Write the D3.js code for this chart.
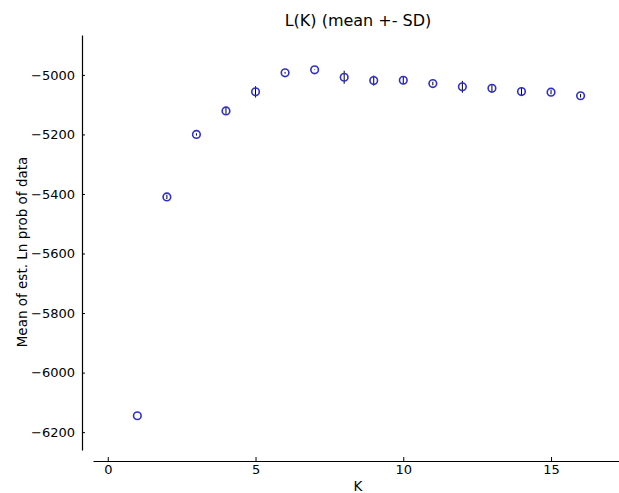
<!DOCTYPE html>
<meta charset="utf-8">
<script src="https://d3js.org/d3.v7.min.js"></script>
<style>
  body { margin: 0; background: #fff; }
  text { font-family: "DejaVu Sans", sans-serif; }
</style>
<div id="chart"></div>
<script>

// chart values
var kValues  = [1, 2, 3, 4, 5, 6, 7, 8, 9, 10, 11, 12, 13, 14, 15, 16];
var meanLnP  = [-6145, -5410, -5200, -5121, -5057, -4993, -4983, -5008, -5019, -5018, -5029, -5040, -5045, -5056, -5058, -5070];
var sdLnP    = [0, 7, 4, 10, 19, 3, 1, 22, 17, 13, 6, 20, 12, 12, 7, 6];
var xTicks   = [0, 5, 10, 15];
var yTicks   = [-6200, -6000, -5800, -5600, -5400, -5200, -5000];

var width = 619, height = 493;

var svg = d3.select("#chart")
  .append("svg")
    .attr("width", width)
    .attr("height", height);

var x = d3.scaleLinear()
  .domain([-0.5, 17.3])
  .range([93, 619]);

var y = d3.scaleLinear()
  .domain([-6260, -4866])
  .range([450, 35]);

// x axis (offset spine, ticks pointing inward)
var xAxis = svg.append("g")
  .attr("transform", "translate(0,461)")
  .call(d3.axisBottom(x).tickValues(xTicks).tickFormat(d3.format("d"))
    .tickSizeInner(-4).tickSizeOuter(0).tickPadding(4));

// y axis
var yAxis = svg.append("g")
  .attr("transform", "translate(82,0)")
  .call(d3.axisLeft(y).tickValues(yTicks).tickFormat(d3.format("d"))
    .tickSizeInner(-3).tickSizeOuter(0).tickPadding(7));

[xAxis, yAxis].forEach(function(g){
  g.selectAll("path.domain").attr("stroke", "#000").attr("stroke-width", 1.2);
  g.selectAll(".tick line").attr("stroke", "#000");
  g.selectAll("text").style("font-size", "13px").attr("fill", "#000")
    .style("font-family", "DejaVu Sans, sans-serif");
});

var data = kValues.map(function(k, i){ return {k: k, m: meanLnP[i], sd: sdLnP[i]}; });

// error bars
svg.selectAll("line.err")
  .data(data)
  .enter()
  .append("line")
    .attr("class", "err")
    .attr("x1", function(d){ return x(d.k); })
    .attr("x2", function(d){ return x(d.k); })
    .attr("y1", function(d){ return y(d.m - d.sd); })
    .attr("y2", function(d){ return y(d.m + d.sd); })
    .attr("stroke", "#000")
    .attr("stroke-width", 1);

// mean markers
svg.selectAll("circle.pt")
  .data(data)
  .enter()
  .append("circle")
    .attr("class", "pt")
    .attr("cx", function(d){ return x(d.k); })
    .attr("cy", function(d){ return y(d.m); })
    .attr("r", 3.8)
    .style("fill", "none")
    .attr("stroke", "#3030c8")
    .attr("stroke-width", 1.6);

// title
svg.append("text")
  .attr("x", 358)
  .attr("y", 26)
  .attr("text-anchor", "middle")
  .style("font-size", "16px")
  .text("L(K) (mean +- SD)");

// axis labels
svg.append("text")
  .attr("x", 358)
  .attr("y", 491)
  .attr("text-anchor", "middle")
  .style("font-size", "13.5px")
  .text("K");

svg.append("text")
  .attr("transform", "translate(27,252) rotate(-90)")
  .attr("text-anchor", "middle")
  .style("font-size", "13.5px")
  .text("Mean of est. Ln prob of data");
</script>
